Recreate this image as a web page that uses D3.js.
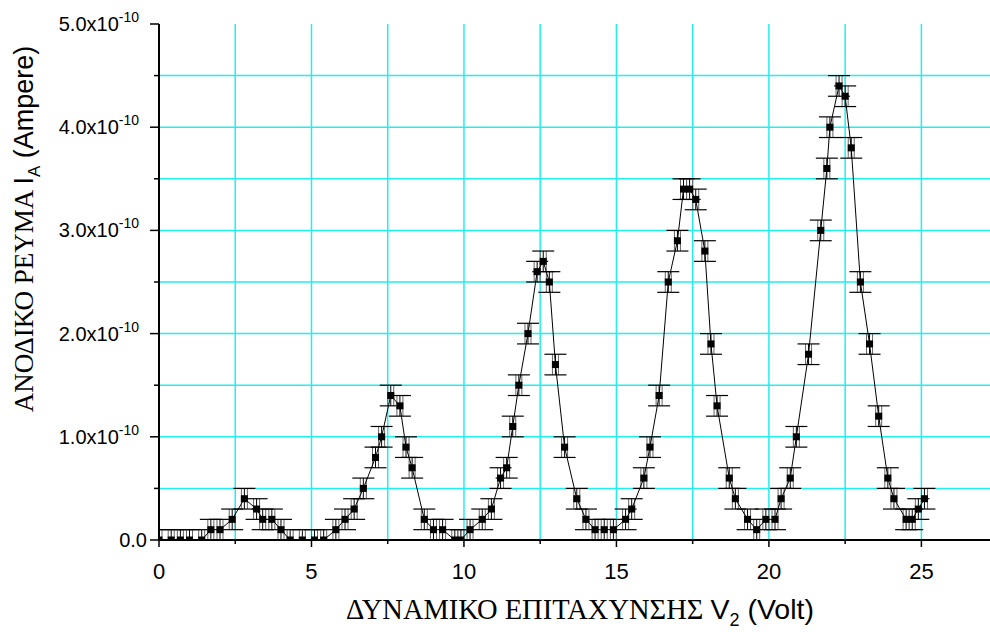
<!DOCTYPE html>
<html>
<head>
<meta charset="utf-8"/>
<script src="https://cdn.jsdelivr.net/npm/d3@7"></script>
<style>
body { margin: 0; background: #fff; }
.grid line { stroke: #22eeee; stroke-width: 1.5; }
.tick-label { font-family: "Liberation Sans", Arial, sans-serif; fill: #000; }
.serif { font-family: "Liberation Serif", "Times New Roman", serif; }
.sans { font-family: "Liberation Sans", Arial, sans-serif; }
</style>
</head>
<body>
<svg id="chart" width="990" height="632"></svg>
<script>
// accelerating voltage V2 (Volt)
var voltage = [0, 0.4, 0.7, 1.0, 1.4, 1.7, 2.0, 2.4, 2.8, 3.2, 3.4, 3.7, 4.0, 4.3, 4.7, 5.1, 5.4,
  5.8, 6.1, 6.4, 6.7, 7.1, 7.3, 7.6, 7.9, 8.1, 8.3, 8.7, 9.0, 9.3, 9.7, 9.9,
  10.2, 10.6, 10.9, 11.2, 11.4, 11.6, 11.8, 12.1, 12.4, 12.6, 12.8, 13.0, 13.3, 13.7, 14.0, 14.3, 14.6, 14.9,
  15.3, 15.5, 15.9, 16.1, 16.4, 16.7, 17.0, 17.2, 17.4, 17.6, 17.9, 18.1, 18.3, 18.7, 18.9, 19.3, 19.6, 19.9,
  20.2, 20.4, 20.7, 20.9, 21.3, 21.7, 21.9, 22.0, 22.3, 22.5, 22.7, 23.0, 23.3, 23.6, 23.9, 24.1, 24.5, 24.7, 24.9, 25.1];
// anode current, in units of 1e-11 A
var current = [0, 0, 0, 0, 0, 1, 1, 2, 4, 3, 2, 2, 1, 0, 0, 0, 0,
  1, 2, 3, 5, 8, 10, 14, 13, 9, 7, 2, 1, 1, 0, 0,
  1, 2, 3, 6, 7, 11, 15, 20, 26, 27, 25, 17, 9, 4, 2, 1, 1, 1,
  2, 3, 6, 9, 14, 25, 29, 34, 34, 33, 28, 19, 13, 6, 4, 2, 1, 2,
  2, 4, 6, 10, 18, 30, 36, 40, 44, 43, 38, 25, 19, 12, 6, 4, 2, 2, 3, 4];
var errCurrent = 1; // +/- 1e-11 A

var xMajor = [0, 5, 10, 15, 20, 25];
var xMinor = [2.5, 7.5, 12.5, 17.5, 22.5];
var yMajor = [0, 1, 2, 3, 4, 5];            // x 1e-10
var yMinor = [0.5, 1.5, 2.5, 3.5, 4.5];

var data = voltage.map(function(v, i) { return {v: v, i: current[i] * 1e-11}; });

var svg = d3.select("#chart");
var mLeft = 159, mRight = 990, mTop = 24, mBottom = 540;

var x = d3.scaleLinear().domain([0, 27.25]).range([mLeft, mRight]);
var y = d3.scaleLinear().domain([0, 5e-10]).range([mBottom, mTop]);

svg.append("defs").append("clipPath").attr("id", "plot")
  .append("rect").attr("x", mLeft).attr("y", mTop - 10).attr("width", mRight - mLeft).attr("height", mBottom - mTop + 10);

// grid
var grid = svg.append("g").attr("class", "grid");
grid.selectAll("line.h").data(yMinor.concat(yMajor.slice(1, 5)))
  .enter().append("line")
  .attr("x1", mLeft).attr("x2", mRight)
  .attr("y1", function(d) { return y(d * 1e-10); })
  .attr("y2", function(d) { return y(d * 1e-10); });
grid.selectAll("line.v").data(xMajor.slice(1).concat(xMinor))
  .enter().append("line")
  .attr("y1", mTop).attr("y2", mBottom)
  .attr("x1", function(d) { return x(d); })
  .attr("x2", function(d) { return x(d); });

var plot = svg.append("g").attr("clip-path", "url(#plot)");

// error bars
var eb = plot.selectAll("g.err").data(data).enter().append("g");
[-3, 3].forEach(function(off) {
  eb.append("line")
    .attr("x1", function(d) { return x(d.v) + off; })
    .attr("x2", function(d) { return x(d.v) + off; })
    .attr("y1", function(d) { return y(d.i + errCurrent * 1e-11); })
    .attr("y2", function(d) { return y(d.i - errCurrent * 1e-11); })
    .attr("stroke", "#666").attr("stroke-width", 1);
});
eb.append("line")
  .attr("x1", function(d) { return x(d.v); })
  .attr("x2", function(d) { return x(d.v); })
  .attr("y1", function(d) { return y(d.i + errCurrent * 1e-11); })
  .attr("y2", function(d) { return y(d.i - errCurrent * 1e-11); })
  .attr("stroke", "#000").attr("stroke-width", 1);
[1, -1].forEach(function(s) {
  eb.append("line")
    .attr("x1", function(d) { return x(d.v) - 11; })
    .attr("x2", function(d) { return x(d.v) + 11; })
    .attr("y1", function(d) { return y(d.i + s * errCurrent * 1e-11); })
    .attr("y2", function(d) { return y(d.i + s * errCurrent * 1e-11); })
    .attr("stroke", "#000").attr("stroke-width", 1.2);
});

// connecting line
plot.append("path").datum(data)
  .attr("fill", "none").attr("stroke", "#000").attr("stroke-width", 1)
  .attr("d", d3.line().x(function(d) { return x(d.v); }).y(function(d) { return y(d.i); }));

// markers
plot.selectAll("rect.pt").data(data).enter().append("rect")
  .attr("x", function(d) { return x(d.v) - 3.5; })
  .attr("y", function(d) { return y(d.i) - 3.5; })
  .attr("width", 7).attr("height", 7).attr("fill", "#000");

// axes
var axisG = svg.append("g");
axisG.append("line").attr("x1", mLeft).attr("x2", mLeft).attr("y1", mTop).attr("y2", mBottom + 1)
  .attr("stroke", "#000").attr("stroke-width", 2);
axisG.append("line").attr("x1", mLeft - 1).attr("x2", mRight).attr("y1", mBottom).attr("y2", mBottom)
  .attr("stroke", "#000").attr("stroke-width", 2);

axisG.selectAll("line.ym").data(yMajor).enter().append("line")
  .attr("x1", mLeft - 9).attr("x2", mLeft)
  .attr("y1", function(d) { return y(d * 1e-10); }).attr("y2", function(d) { return y(d * 1e-10); })
  .attr("stroke", "#000").attr("stroke-width", 1.5);
axisG.selectAll("line.yn").data(yMinor).enter().append("line")
  .attr("x1", mLeft - 5).attr("x2", mLeft)
  .attr("y1", function(d) { return y(d * 1e-10); }).attr("y2", function(d) { return y(d * 1e-10); })
  .attr("stroke", "#000").attr("stroke-width", 1.5);
axisG.selectAll("line.xm").data(xMajor).enter().append("line")
  .attr("x1", function(d) { return x(d); }).attr("x2", function(d) { return x(d); })
  .attr("y1", mBottom).attr("y2", mBottom + 7)
  .attr("stroke", "#000").attr("stroke-width", 1.5);
axisG.selectAll("line.xn").data(xMinor).enter().append("line")
  .attr("x1", function(d) { return x(d); }).attr("x2", function(d) { return x(d); })
  .attr("y1", mBottom).attr("y2", mBottom + 4)
  .attr("stroke", "#000").attr("stroke-width", 1.5);

// y tick labels
yMajor.forEach(function(d) {
  var t = svg.append("text").attr("class", "tick-label")
    .attr("text-anchor", "end").attr("font-size", 20)
    .attr("y", y(d * 1e-10) + 7);
  if (d === 0) {
    t.attr("x", 147).text("0.0");
  } else {
    t.attr("x", 139);
    t.append("tspan").text(d.toFixed(1) + "x10");
    t.append("tspan").attr("font-size", 14).attr("dy", -9).text("-10");
  }
});

// x tick labels
svg.selectAll("text.xl").data(xMajor).enter().append("text")
  .attr("class", "tick-label").attr("font-size", 22).attr("text-anchor", "middle")
  .attr("x", function(d) { return x(d); }).attr("y", 579)
  .text(function(d) { return d; });

// x title
var xt = svg.append("text").attr("x", 580).attr("y", 619).attr("text-anchor", "middle").attr("font-size", 28.5);
xt.append("tspan").attr("class", "serif").text("ΔΥΝΑΜΙΚΟ ΕΠΙΤΑΧΥΝΣΗΣ ");
xt.append("tspan").attr("class", "sans").text("V");
xt.append("tspan").attr("class", "sans").attr("font-size", 18).attr("dy", 7).text("2");
xt.append("tspan").attr("class", "sans").attr("dy", -7).text(" (Volt)");

// y title
var yt = svg.append("text").attr("transform", "translate(33,229) rotate(-90)")
  .attr("text-anchor", "middle").attr("font-size", 27);
yt.append("tspan").attr("class", "serif").text("ΑΝΟΔΙΚΟ ΡΕΥΜΑ ");
yt.append("tspan").attr("class", "sans").text("I");
yt.append("tspan").attr("class", "sans").attr("font-size", 17).attr("dy", 7).text("A");
yt.append("tspan").attr("class", "sans").attr("dy", -7).text(" (Ampere)");
</script>
</body>
</html>
